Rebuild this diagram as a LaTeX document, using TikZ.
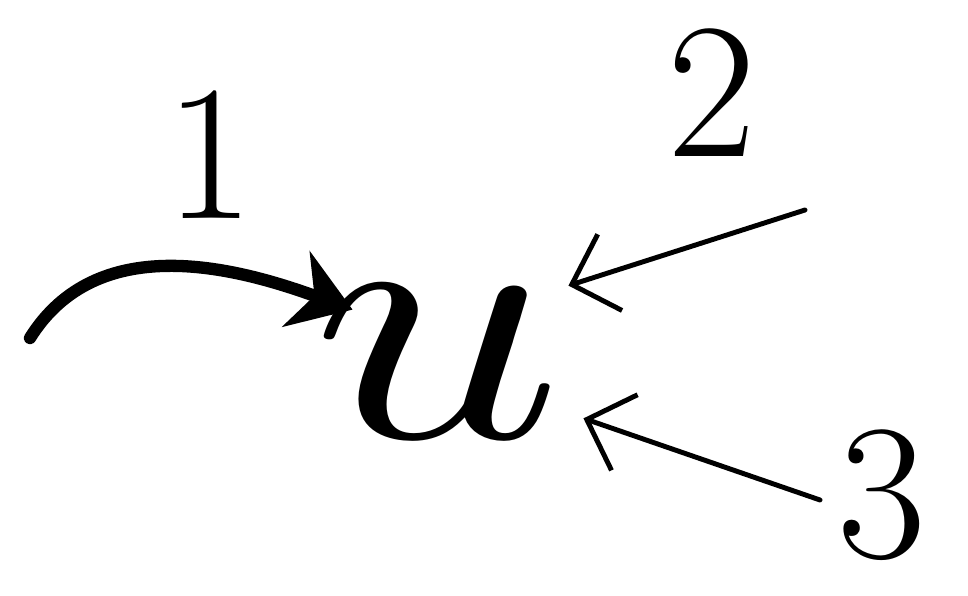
\documentclass[tikz,border=0pt]{standalone}
\usetikzlibrary{arrows.meta}
\begin{document}
\begin{tikzpicture}[line cap=round,
  digit/.style={font=\fontsize{55}{55}\selectfont, inner sep=0pt},
  inedge/.style={line width=1.4pt, -{Straight Barb[length=4mm, width=8mm]}}]
  \useasboundingbox (0,0) rectangle (9.68,5.95);
  % The variable in the middle.
  \node[inner sep=0pt] (u) at (4.37,2.33) {\scalebox{12.5}[10]{$u$}};
  \node[digit] (one)   at (2.1,4.4)  {1};
  \node[digit] (two)   at (7.12,5.02) {2};
  \node[digit] (three) at (8.82,1.0) {3};
  \coordinate (s1) at (0.3,2.57);  % tail of the curved arrow
  \coordinate (s2) at (8.05,3.85); % tail, upper right
  \coordinate (s3) at (8.2,0.95);  % tail, lower right
  % Edge 1, curved and heavy.
  \draw[line width=3.5pt, -{Stealth[length=6mm, width=8mm]}]
    (s1) to[out=58, in=160] ([shift={(0.42,-0.24)}]u.north west);
  % Edges 2 and 3.
  \draw[inedge] (s2) -- ([xshift=0.5mm]u.north east);
  \draw[inedge] (s3) -- ([shift={(0.2,0.2)}]u.south east);
\end{tikzpicture}
\end{document}
